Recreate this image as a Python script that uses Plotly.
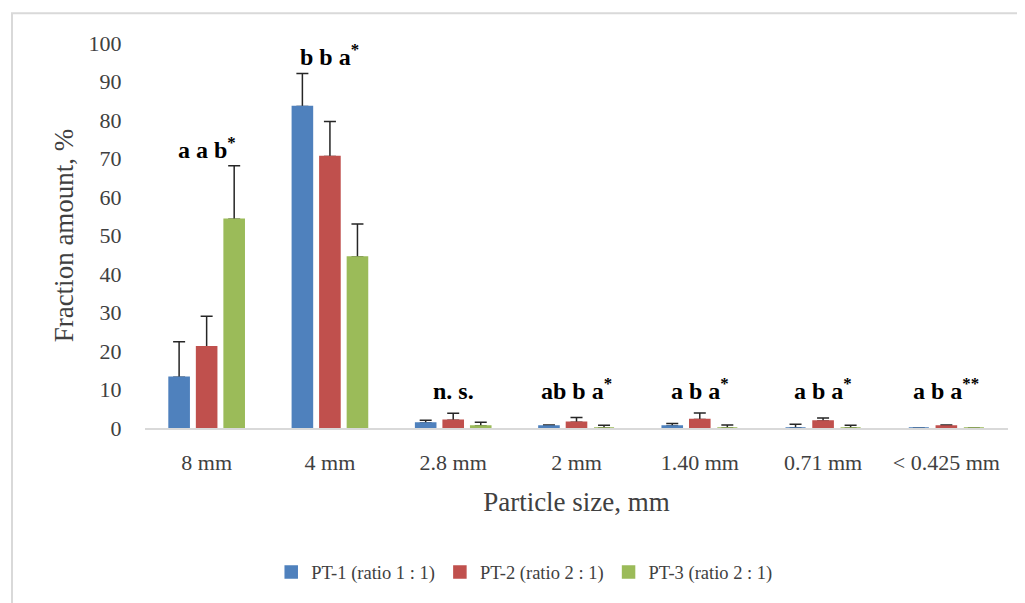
import plotly.graph_objects as go

categories = ["8 mm", "4 mm", "2.8 mm", "2 mm", "1.40 mm", "0.71 mm", "< 0.425 mm"]
series_names = ["PT-1 (ratio 1 : 1)", "PT-2 (ratio 2 : 1)", "PT-3 (ratio 2 : 1)"]
pt1_values = [13.2, 83.5, 1.3, 0.5, 0.5, 0.0, 0.0]
pt1_errors = [9.2, 8.6, 0.7, 0.3, 0.7, 1.0, 0.0]
pt2_values = [21.1, 70.5, 2.0, 1.5, 2.2, 1.8, 0.5]
pt2_errors = [7.9, 9.1, 1.8, 1.2, 1.7, 0.8, 0.3]
pt3_values = [54.2, 44.4, 0.5, 0.0, 0.0, 0.0, 0.0]
pt3_errors = [13.9, 8.6, 1.0, 0.7, 0.8, 0.7, 0.0]
letters = ["a a b<sup>*</sup>", "b b a<sup>*</sup>", "n. s.", "ab b a<sup>*</sup>",
           "a b a<sup>*</sup>", "a b a<sup>*</sup>", "a b a<sup>**</sup>"]
colors = ["#4F81BD", "#C0504D", "#9BBB59"]

FONT = "'Liberation Serif', 'Times New Roman', Times, serif"
TXT = "#404040"
values = [pt1_values, pt2_values, pt3_values]
errors = [pt1_errors, pt2_errors, pt3_errors]

fig = go.Figure()
# error bars (lower layer; their bottom caps get covered by the bars drawn above)
for name, v, e, c in zip(series_names, values, errors, colors):
    fig.add_trace(go.Bar(
        x=categories, y=v, name=name, showlegend=False, hoverinfo="skip",
        marker=dict(color=c, line=dict(width=0)),
        error_y=dict(type="data", array=e, symmetric=False,
                     arrayminus=[0] * len(e), color="#262626",
                     thickness=1.5, width=6),
        xaxis="x", yaxis="y",
    ))
# visible bars on an overlaid copy of the axes
for name, v, c in zip(series_names, values, colors):
    fig.add_trace(go.Bar(
        x=categories, y=v, name=name,
        marker=dict(color=c, line=dict(width=1.5, color=c)),
        xaxis="x2", yaxis="y2",
    ))

for i, cat in enumerate(categories):
    top = max(values[s][i] + errors[s][i] for s in range(3))
    fig.add_annotation(x=cat, y=max(top, 5.5), text="<b>" + letters[i] + "</b>",
                       showarrow=False, yanchor="bottom", yshift=1,
                       font=dict(family=FONT, size=24, color="#000000"))

# outer chart frame
fig.add_shape(type="rect", xref="paper", yref="paper",
              x0=-0.1541, x1=1.03, y0=-0.5, y1=1.0775,
              line=dict(color="#d9d9d9", width=2), layer="below")

fig.update_layout(
    width=1017, height=595,
    margin=dict(l=137, r=17, t=35, b=173),
    paper_bgcolor="white", plot_bgcolor="white",
    barmode="group", bargap=0.33, bargroupgap=0.27,
    font=dict(family=FONT, color=TXT),
    legend=dict(orientation="h", x=0.44, xanchor="center", y=-0.375,
                yanchor="middle", font=dict(family=FONT, size=18.5, color=TXT),
                itemwidth=30, traceorder="normal"),
    xaxis=dict(showline=True, linecolor="#d9d9d9", linewidth=1.5,
               ticks="outside", ticklen=14, tickcolor="rgba(0,0,0,0)",
               tickfont=dict(family=FONT, size=22, color=TXT),
               title=dict(text="Particle size, mm",
                          font=dict(family=FONT, size=27, color=TXT),
                          standoff=18)),
    yaxis=dict(range=[0, 100], dtick=10, showgrid=False, zeroline=False,
               showline=False, ticks="outside", ticklen=18,
               tickcolor="rgba(0,0,0,0)",
               tickfont=dict(family=FONT, size=22, color=TXT),
               title=dict(text="Fraction amount, %",
                          font=dict(family=FONT, size=27, color=TXT),
                          standoff=7)),
    xaxis2=dict(overlaying="x", matches="x", visible=False),
    yaxis2=dict(overlaying="y", matches="y", visible=False, range=[0, 100]),
)

fig.write_html("out.html")
